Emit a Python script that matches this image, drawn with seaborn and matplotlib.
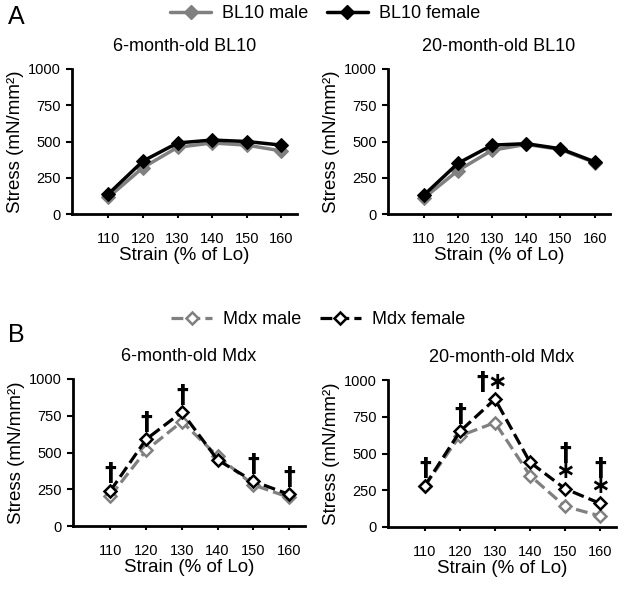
import pandas as pd
import matplotlib
matplotlib.use("Agg")
import matplotlib.pyplot as plt
import seaborn as sns
from matplotlib.lines import Line2D

strain = [110, 120, 130, 140, 150, 160]

# stress values (mN/mm2)
bl10_6_male = [115, 320, 460, 490, 475, 435]
bl10_6_female = [138, 365, 490, 510, 500, 475]
bl10_20_male = [110, 300, 440, 480, 445, 355]
bl10_20_female = [130, 350, 475, 485, 450, 360]
mdx_6_male = [205, 515, 710, 475, 280, 195]
mdx_6_female = [240, 590, 775, 450, 305, 215]
mdx_20_male = [280, 620, 710, 350, 140, 75]
mdx_20_female = [280, 650, 870, 440, 260, 160]

# significance marks over female points
mdx_6_marks = ["†", "†", "†", "", "†", "†"]
mdx_20_marks = ["†", "†", "†∗", "", "†\n∗", "†\n∗"]

sns.set_style("white", {"text.color": "black", "axes.labelcolor": "black",
                        "xtick.color": "black", "ytick.color": "black"})
plt.rcParams["font.family"] = ["Liberation Sans", "DejaVu Sans"]

fig = plt.figure(figsize=(6.24, 5.89), dpi=100)

W, H = 624.0, 589.0


def make_ax(x0, x1, ytop, ybot):
    return fig.add_axes([x0 / W, (H - ybot) / H, (x1 - x0) / W, (ybot - ytop) / H])


ax_a1 = make_ax(72, 297, 69, 214)
ax_a2 = make_ax(388, 610, 69, 214)
ax_b1 = make_ax(73, 305, 379, 526)
ax_b2 = make_ax(388, 616, 380, 527)

grey = "#808080"

bl_male_kw = dict(color=grey, marker="D", markersize=7, markerfacecolor=grey,
                  markeredgecolor=grey, linewidth=2.5)
bl_female_kw = dict(color="black", marker="D", markersize=7, markerfacecolor="black",
                    markeredgecolor="black", linewidth=2.5)
mdx_male_kw = dict(color=grey, marker="D", markersize=6.5, markerfacecolor="white",
                   markeredgecolor=grey, markeredgewidth=1.8, linewidth=2.3, linestyle="--")
mdx_female_kw = dict(color="black", marker="D", markersize=6.5, markerfacecolor="white",
                     markeredgecolor="black", markeredgewidth=1.8, linewidth=2.3, linestyle="--")

panels = [
    (ax_a1, "6-month-old BL10", bl10_6_male, bl10_6_female, bl_male_kw, bl_female_kw, None),
    (ax_a2, "20-month-old BL10", bl10_20_male, bl10_20_female, bl_male_kw, bl_female_kw, None),
    (ax_b1, "6-month-old Mdx", mdx_6_male, mdx_6_female, mdx_male_kw, mdx_female_kw, mdx_6_marks),
    (ax_b2, "20-month-old Mdx", mdx_20_male, mdx_20_female, mdx_male_kw, mdx_female_kw, mdx_20_marks),
]

for ax, title, male, female, mkw, fkw, marks in panels:
    df = pd.DataFrame({"strain": strain, "male": male, "female": female})
    sns.lineplot(data=df, x="strain", y="male", ax=ax, **mkw)
    sns.lineplot(data=df, x="strain", y="female", ax=ax, **fkw)
    if marks is not None:
        for x, y, m in zip(strain, female, marks):
            if m:
                dx = -2 if m == "†∗" else 0
                ax.annotate(m, (x, y), xytext=(dx, 4), textcoords="offset points",
                            ha="center", va="bottom", fontsize=17, fontweight="bold",
                            family=["DejaVu Sans"], linespacing=0.7, color="black")
    ax.set_xlim(99.5, 164.5)
    ax.set_ylim(0, 1000)
    ax.set_xticks(strain)
    ax.set_yticks([0, 250, 500, 750, 1000])
    ax.set_xlabel("Strain (% of Lo)", fontsize=13.5, labelpad=1)
    ax.set_ylabel("Stress (mN/mm²)", fontsize=13.5, labelpad=3)
    ax.set_title(title, fontsize=13, pad=13, color="black")
    sns.despine(ax=ax)
    for s in ["left", "bottom"]:
        ax.spines[s].set_linewidth(2)
        ax.spines[s].set_color("black")
    ax.tick_params(axis="y", direction="out", length=4, width=1.5, labelsize=10.5, pad=4,
                   left=True, colors="black")
    ax.tick_params(axis="x", direction="out", length=3, width=1.5, labelsize=10.5, pad=10,
                   bottom=True, colors="black")

# legends
bl_handles = [Line2D([], [], **bl_male_kw), Line2D([], [], **bl_female_kw)]
fig.legend(bl_handles, ["BL10 male", "BL10 female"], loc="center",
           bbox_to_anchor=(325 / W, 1 - 14 / H), ncol=2, frameon=False,
           fontsize=13, handlelength=2.3, columnspacing=1.0, handletextpad=0.6)
mdx_handles = [Line2D([], [], **mdx_male_kw), Line2D([], [], **mdx_female_kw)]
fig.legend(mdx_handles, ["Mdx male", "Mdx female"], loc="center",
           bbox_to_anchor=(318 / W, 1 - 320 / H), ncol=2, frameon=False,
           fontsize=13, handlelength=2.3, columnspacing=1.0, handletextpad=0.6)

fig.text(8 / W, 1 - 17 / H, "A", fontsize=18, va="center", ha="left", color="black")
fig.text(8 / W, 1 - 335 / H, "B", fontsize=18, va="center", ha="left", color="black")

fig.savefig("out.png", dpi=100)
